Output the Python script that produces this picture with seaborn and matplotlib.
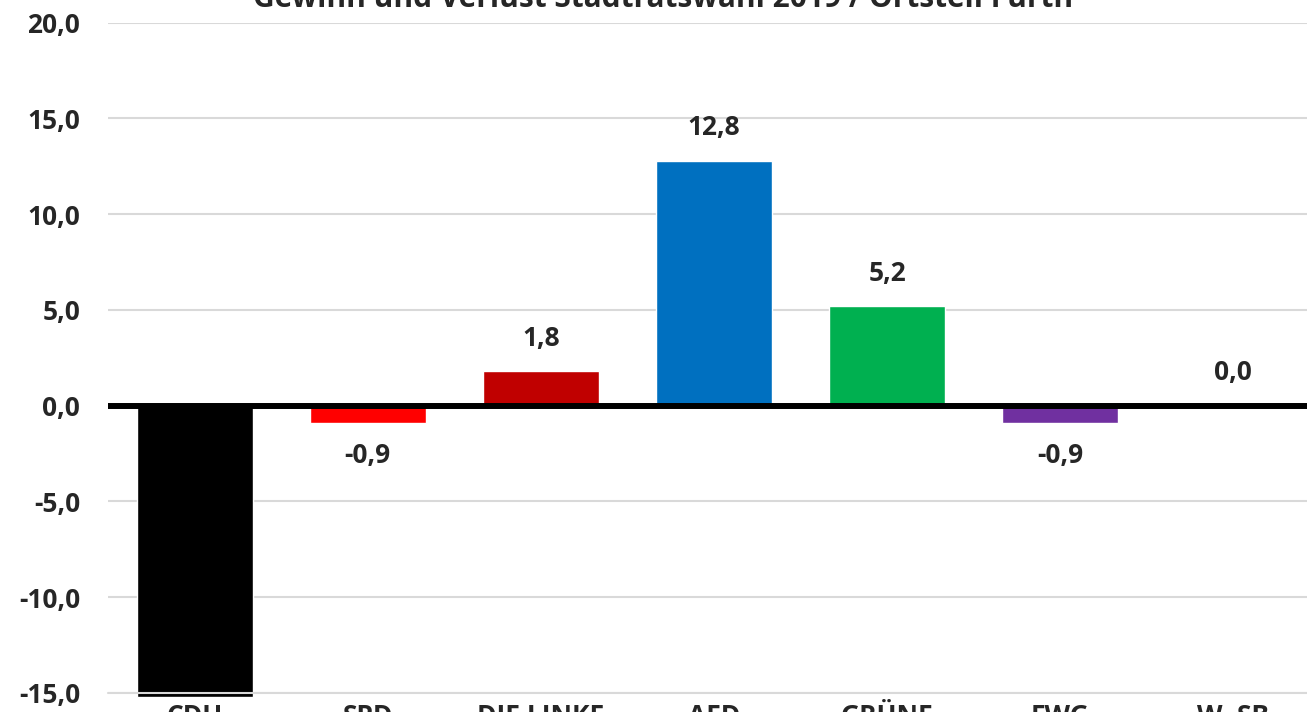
import numpy as np
import pandas as pd
import matplotlib
matplotlib.use('Agg')
import matplotlib.pyplot as plt
import seaborn as sns

parties = ['CDU', 'SPD', 'DIE LINKE', 'AFD', 'GRÜNE', 'FWG', 'W.-SB']
change = [-15.2, -0.9, 1.8, 12.8, 5.2, -0.9, 0.0]
colors = ['#000000', '#FF0000', '#C00000', '#0070C0', '#00B050', '#7030A0', '#A5A5A5']
yticks = [-15, -10, -5, 0, 5, 10, 15, 20]
title = 'Gewinn und Verlust Stadtratswahl 2019 / Ortsteil Furth'

sns.set_style('white')
plt.rcParams['font.family'] = ['Open Sans', 'DejaVu Sans']
plt.rcParams['font.weight'] = 'bold'

df = pd.DataFrame({'party': parties, 'change': change})

W, H = 1307, 712
fig = plt.figure(figsize=(W / 100, H / 100), dpi=100)
ax = fig.add_axes([108 / W, 1 - 693 / H, (1320 - 108) / W, (693 - 22.7) / H])

sns.barplot(data=df, x='party', y='change', hue='party', palette=colors,
            legend=False, width=0.67, saturation=1, ax=ax, zorder=2)
for p in ax.patches:
    p.set_clip_on(False)

ax.set_ylim(-15, 20)
ax.set_xlim(-0.5, len(parties) - 0.5)
ax.set_yticks(yticks)
ax.set_yticklabels([f'{t:.1f}'.replace('.', ',') for t in yticks])
ax.yaxis.grid(True, color='#D9D9D9', linewidth=1.5, zorder=0)
ax.set_axisbelow(True)
ax.axhline(0, color='black', linewidth=4.3, zorder=3)
# gridline at the bottom drawn over the clipped CDU bar
ax.axhline(-15, color='#D9D9D9', linewidth=1.5, zorder=4, clip_on=False)

for s in ['left', 'right', 'top', 'bottom']:
    ax.spines[s].set_visible(False)

fs = 19
ax.tick_params(axis='y', length=0, pad=20, labelsize=fs)
ax.tick_params(axis='x', which='major', length=0, pad=7, labelsize=fs)
ax.set_xticks(np.arange(-0.5, len(parties), 1), minor=True)
ax.tick_params(axis='x', which='minor', length=30, width=1.5, color='#D9D9D9', direction='out')
ax.set_xlabel('')
ax.set_ylabel('')
for lab in ax.get_xticklabels() + ax.get_yticklabels():
    lab.set_fontweight('bold')

for i, v in enumerate(change):
    if v < -15:
        continue
    txt = f'{v:.1f}'.replace('.', ',')
    if v >= 0:
        ax.annotate(txt, (i, v), xytext=(0, 14), textcoords='offset points',
                    ha='center', va='bottom', fontsize=fs, fontweight='bold')
    else:
        ax.annotate(txt, (i, v), xytext=(0, -14), textcoords='offset points',
                    ha='center', va='top', fontsize=fs, fontweight='bold')

fig.text(663 / W, 1 - 7 / H, title, ha='center', va='baseline',
         fontsize=21.5, fontweight='bold')

fig.savefig('out.png', dpi=100)
